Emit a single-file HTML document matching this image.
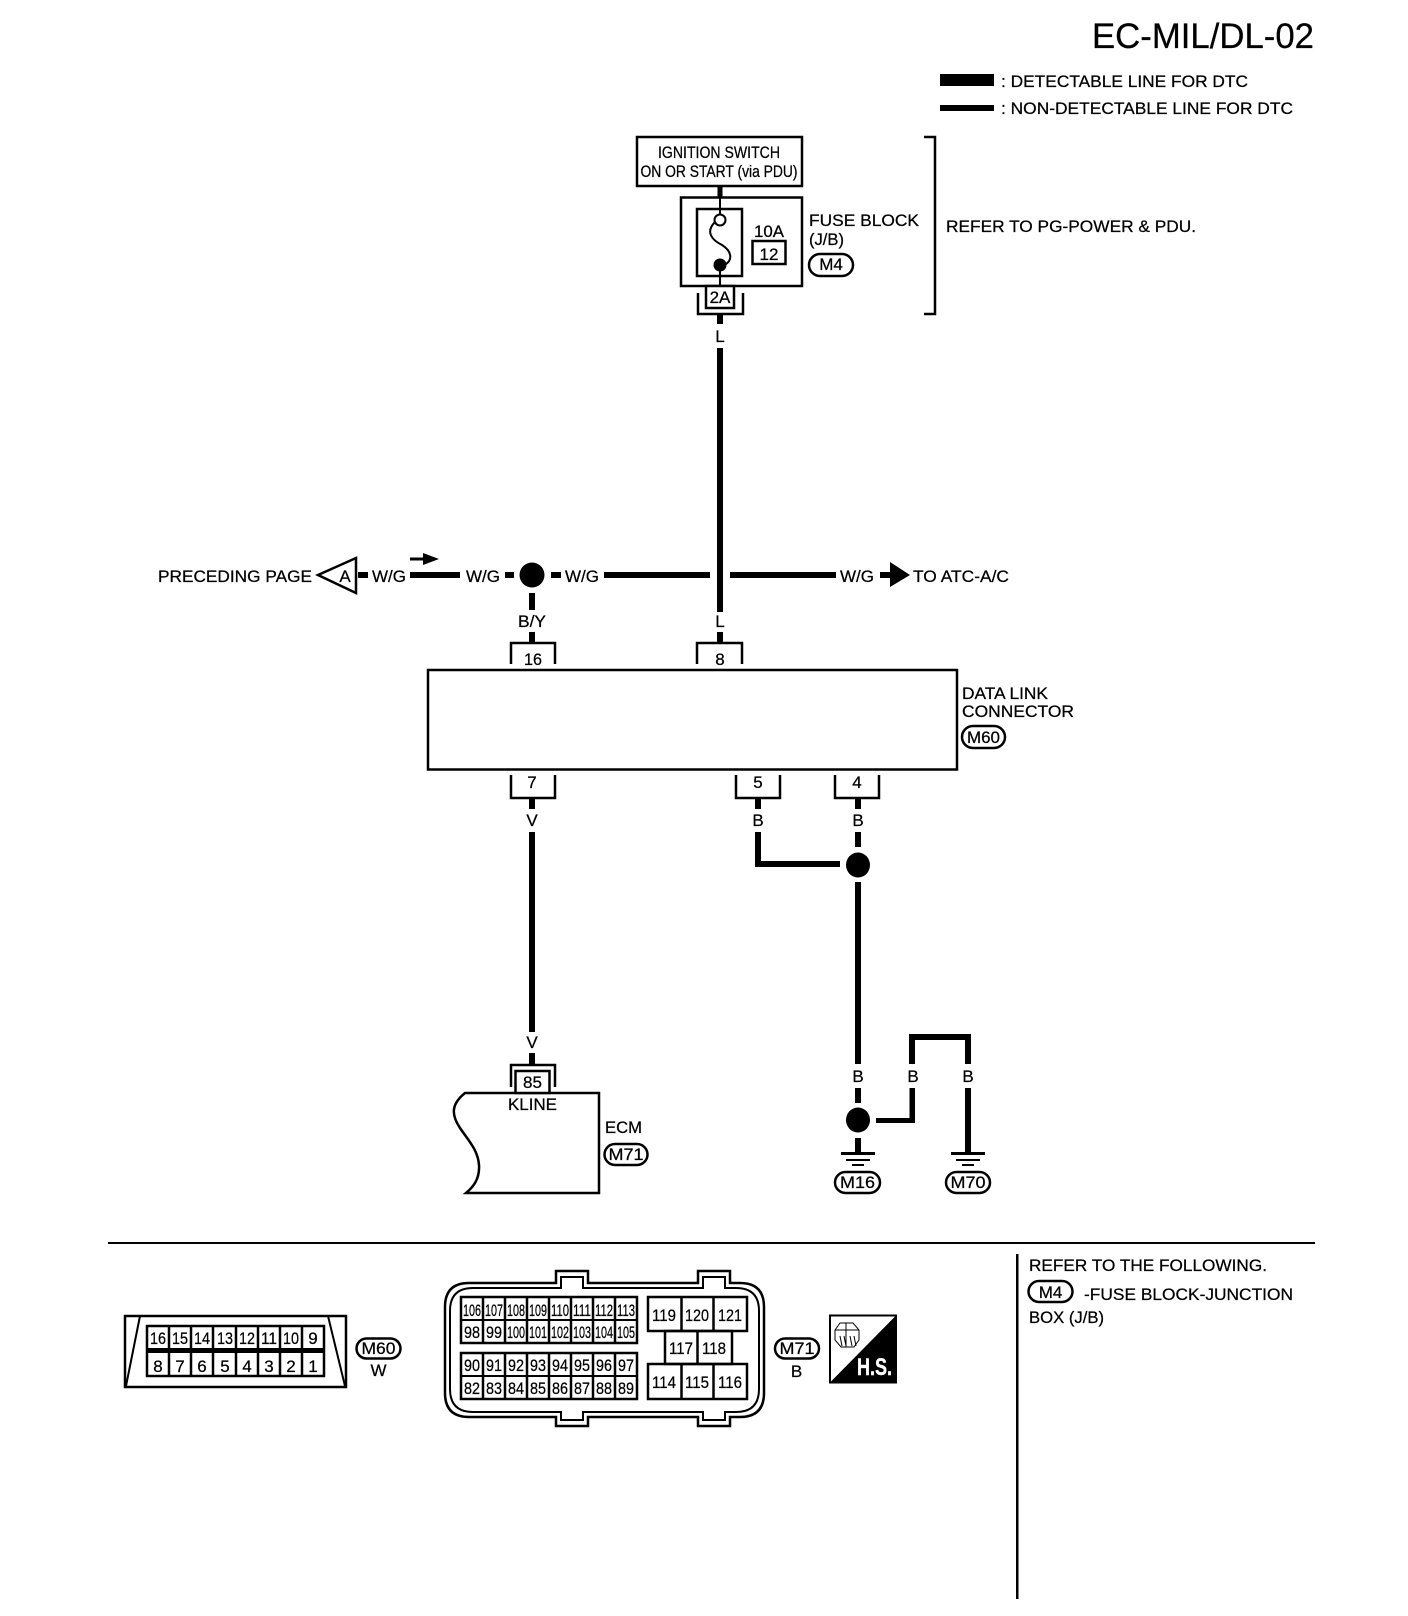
<!DOCTYPE html>
<html>
<head>
<meta charset="utf-8">
<title>EC-MIL/DL-02</title>
<style>
html,body{margin:0;padding:0;background:#fff;}
svg{display:block;}
text{font-family:"Liberation Sans",sans-serif;font-size:17px;fill:#000;stroke:#000;stroke-width:.25;}
.m{text-anchor:middle;}
.n{text-anchor:middle;font-size:17px;}
.o{fill:#fff;stroke:#000;stroke-width:2.5;}
.l{fill:none;stroke:#000;stroke-width:2.5;}
.w{fill:none;stroke:#000;stroke-width:6;}
.t{fill:none;stroke:#000;stroke-width:2;}
</style>
</head>
<body>
<svg width="1408" height="1616" viewBox="0 0 1408 1616" xmlns="http://www.w3.org/2000/svg">
<rect width="1408" height="1616" fill="#fff"/>

<!-- Title / legend -->
<text x="1092" y="48" style="font-size:35px" textLength="222" lengthAdjust="spacingAndGlyphs">EC-MIL/DL-02</text>
<rect x="940" y="74" width="54" height="12"/>
<rect x="940" y="105" width="54" height="6"/>
<text x="1001" y="87" textLength="247" lengthAdjust="spacingAndGlyphs">: DETECTABLE LINE FOR DTC</text>
<text x="1001" y="114" textLength="292" lengthAdjust="spacingAndGlyphs">: NON-DETECTABLE LINE FOR DTC</text>

<!-- Ignition / fuse block -->
<g transform="translate(-1,0)">
<rect x="638" y="137" width="165" height="49" class="l"/>
<text class="m" x="720" y="158" textLength="122" lengthAdjust="spacingAndGlyphs">IGNITION SWITCH</text>
<text class="m" x="720" y="177" textLength="157" lengthAdjust="spacingAndGlyphs">ON OR START (via PDU)</text>
<rect x="718.5" y="186" width="5" height="11"/>
<rect x="682" y="197.5" width="121" height="88.5" class="l"/>
<rect x="698" y="209" width="45" height="67" class="l"/>
<path d="M721 198V215M721 270V286" class="t"/>
<circle cx="721" cy="220" r="5.5" fill="#fff" stroke="#000" stroke-width="2"/>
<path d="M716 222C706 232 713 240 723 245C734 252 734 262 723 266" class="t"/>
<circle cx="721" cy="265" r="6.5"/>
<text class="m" x="770" y="237" textLength="30" lengthAdjust="spacingAndGlyphs">10A</text>
<rect x="753.5" y="241" width="33" height="23" class="l"/>
<text class="m" x="770" y="260">12</text>
<text x="810" y="226" textLength="110" lengthAdjust="spacingAndGlyphs">FUSE BLOCK</text>
<text x="810" y="245" textLength="35" lengthAdjust="spacingAndGlyphs">(J/B)</text>
<rect x="810" y="254" width="44" height="22" rx="11" class="o"/>
<text class="m" x="832" y="270">M4</text>
<path d="M699 293V314H744V293" class="l"/>
<rect x="707" y="286" width="28" height="22" class="o"/>
<text class="m" x="721" y="303">2A</text>
</g>
<path d="M924 137H935V314H924" class="l"/>
<text x="946" y="232" textLength="250" lengthAdjust="spacingAndGlyphs">REFER TO PG-POWER &amp; PDU.</text>
<rect x="717" y="315" width="6" height="9"/>
<text class="m" x="720" y="342">L</text>
<rect x="717" y="348" width="6" height="264"/>

<!-- Horizontal W/G line -->
<text x="158" y="582" textLength="154" lengthAdjust="spacingAndGlyphs">PRECEDING PAGE</text>
<path d="M318 575L356 558V593Z" fill="#fff" stroke="#000" stroke-width="2.5"/>
<text class="m" x="345" y="582">A</text>
<rect x="358" y="572" width="10" height="6"/>
<text x="372" y="582" textLength="34" lengthAdjust="spacingAndGlyphs">W/G</text>
<rect x="410" y="572" width="50" height="6"/>
<path d="M410 557.5H423V553L439 559L423 565V560.5H410Z"/>
<text x="466" y="582" textLength="34" lengthAdjust="spacingAndGlyphs">W/G</text>
<rect x="505" y="572" width="9" height="6"/>
<ellipse cx="532" cy="575" rx="12.5" ry="12.5"/>
<rect x="551" y="572" width="10" height="6"/>
<text x="565" y="582" textLength="34" lengthAdjust="spacingAndGlyphs">W/G</text>
<rect x="604" y="572" width="106" height="6"/>
<rect x="730" y="572" width="106" height="6"/>
<text x="840" y="582" textLength="34" lengthAdjust="spacingAndGlyphs">W/G</text>
<rect x="880" y="572" width="11" height="6"/>
<path d="M890 562L910 575L890 587Z"/>
<text x="913" y="582" textLength="96" lengthAdjust="spacingAndGlyphs">TO ATC-A/C</text>

<!-- Data link connector -->
<rect x="529" y="593" width="6" height="17"/>
<text class="m" x="532" y="627" textLength="28" lengthAdjust="spacingAndGlyphs">B/Y</text>
<text class="m" x="720" y="627">L</text>
<rect x="529" y="632" width="6" height="10"/>
<rect x="717" y="632" width="6" height="10"/>
<path d="M511 664V643H555V664" class="l"/>
<path d="M697 664V643H742V664" class="l"/>
<text class="m" x="533" y="665" textLength="18" lengthAdjust="spacingAndGlyphs">16</text>
<text class="m" x="720" y="665">8</text>
<rect x="428" y="670" width="529" height="99.5" class="l"/>
<text x="962" y="699" textLength="86" lengthAdjust="spacingAndGlyphs">DATA LINK</text>
<text x="962" y="717" textLength="112" lengthAdjust="spacingAndGlyphs">CONNECTOR</text>
<rect x="962" y="726" width="43" height="22" rx="11" class="o"/>
<text class="m" x="983.5" y="743" textLength="33" lengthAdjust="spacingAndGlyphs">M60</text>
<path d="M511 775V798H555V775" class="l"/>
<path d="M736 775V798H780V775" class="l"/>
<path d="M835 775V798H879V775" class="l"/>
<text class="m" x="532" y="788">7</text>
<text class="m" x="758" y="788">5</text>
<text class="m" x="857" y="788">4</text>

<rect x="529" y="798" width="6" height="11"/>
<rect x="755" y="798" width="6" height="11"/>
<rect x="855" y="798" width="6" height="11"/>
<text class="m" x="532" y="826">V</text>
<text class="m" x="758" y="826">B</text>
<text class="m" x="858" y="826">B</text>
<rect x="529" y="832" width="6" height="200"/>
<path d="M758 832V864H840" class="w"/>
<rect x="855" y="832" width="6" height="15"/>
<ellipse cx="858" cy="865" rx="12" ry="12.5"/>
<rect x="855" y="882" width="6" height="182"/>

<!-- ECM -->
<text class="m" x="532" y="1048">V</text>
<rect x="529" y="1053" width="6" height="11"/>
<path d="M511 1087V1065H555V1087" class="l"/>
<path d="M465 1093H599V1193H466C472 1188 480 1180 479 1165C478 1150 468 1140 460 1128C452 1116 450 1105 465 1093Z" class="o"/>
<rect x="515.5" y="1071" width="34" height="22" class="o"/>
<text class="m" x="532.5" y="1088">85</text>
<text class="m" x="532.5" y="1110" textLength="49" lengthAdjust="spacingAndGlyphs">KLINE</text>
<text x="605" y="1133" textLength="37" lengthAdjust="spacingAndGlyphs">ECM</text>
<rect x="604.5" y="1144" width="43" height="21" rx="10.5" class="o"/>
<text class="m" x="626" y="1160" textLength="35" lengthAdjust="spacingAndGlyphs">M71</text>

<!-- Grounds -->
<text class="m" x="858" y="1082">B</text>
<text class="m" x="913" y="1082">B</text>
<text class="m" x="968" y="1082">B</text>
<rect x="855" y="1088" width="6" height="15"/>
<ellipse cx="858" cy="1120" rx="12" ry="12.5"/>
<rect x="855" y="1138" width="6" height="15"/>
<rect x="876" y="1118" width="39" height="5"/>
<rect x="909.5" y="1088" width="5.5" height="35"/>
<path d="M912 1064V1037H968V1064" class="w"/>
<rect x="965" y="1088" width="6" height="65"/>
<rect x="841" y="1152" width="34" height="3"/>
<rect x="846" y="1159" width="24" height="2"/>
<rect x="852" y="1164" width="12" height="2"/>
<rect x="951" y="1152" width="34" height="3"/>
<rect x="956" y="1159" width="24" height="2"/>
<rect x="962" y="1164" width="12" height="2"/>
<rect x="835" y="1172" width="45" height="21" rx="10.5" class="o"/>
<text class="m" x="857.5" y="1188" textLength="35" lengthAdjust="spacingAndGlyphs">M16</text>
<rect x="946" y="1172" width="44" height="21" rx="10.5" class="o"/>
<text class="m" x="968" y="1188" textLength="35" lengthAdjust="spacingAndGlyphs">M70</text>

<!-- Dividers -->
<rect x="108" y="1242" width="1207" height="2"/>
<rect x="1016" y="1254" width="2.5" height="345"/>

<!-- M60 connector -->
<rect x="125" y="1316" width="221" height="71" class="l"/>
<path d="M140 1316L126 1386M328 1316L345 1386" class="t"/>
<rect x="147" y="1326" width="177" height="50" class="l"/>
<rect x="147" y="1348" width="177" height="5" />
<path d="M169 1326V1376M191 1326V1376M213 1326V1376M236 1326V1376M258 1326V1376M280 1326V1376M302 1326V1376" class="l"/>
<text class="n" x="158" y="1344" textLength="16" lengthAdjust="spacingAndGlyphs">16</text>
<text class="n" x="180" y="1344" textLength="16" lengthAdjust="spacingAndGlyphs">15</text>
<text class="n" x="202" y="1344" textLength="16" lengthAdjust="spacingAndGlyphs">14</text>
<text class="n" x="225" y="1344" textLength="16" lengthAdjust="spacingAndGlyphs">13</text>
<text class="n" x="247" y="1344" textLength="16" lengthAdjust="spacingAndGlyphs">12</text>
<text class="n" x="269" y="1344" textLength="16" lengthAdjust="spacingAndGlyphs">11</text>
<text class="n" x="291" y="1344" textLength="16" lengthAdjust="spacingAndGlyphs">10</text>
<text class="n" x="313" y="1344">9</text>
<text class="n" x="158" y="1372">8</text>
<text class="n" x="180" y="1372">7</text>
<text class="n" x="202" y="1372">6</text>
<text class="n" x="225" y="1372">5</text>
<text class="n" x="247" y="1372">4</text>
<text class="n" x="269" y="1372">3</text>
<text class="n" x="291" y="1372">2</text>
<text class="n" x="313" y="1372">1</text>
<rect x="356.5" y="1338.5" width="44" height="20" rx="10" class="o"/>
<text class="m" x="378.5" y="1354" textLength="34" lengthAdjust="spacingAndGlyphs">M60</text>
<text class="m" x="378.5" y="1376">W</text>

<!-- ECM connector -->
<g transform="translate(-1,0)">
<path d="M470 1283H557V1271H589V1283H699V1271H731V1283H741Q765 1283 765 1307V1393Q765 1417 741 1417H731V1426H699V1417H589V1426H557V1417H470Q446 1417 446 1393V1307Q446 1283 470 1283Z" class="o"/>
<path d="M474 1288H562V1277H584V1288H704V1277H726V1288H737Q760 1288 760 1311V1389Q760 1412 737 1412H726V1420H704V1412H584V1420H562V1412H474Q451 1412 451 1389V1311Q451 1288 474 1288Z" class="l" style="stroke-width:2"/>

<rect x="462" y="1297" width="176" height="46" class="l"/>
<rect x="462" y="1353" width="176" height="46" class="l"/>
<path d="M462 1320H638M462 1376H638" class="t"/>
<path d="M484 1297V1343M506 1297V1343M528 1297V1343M550 1297V1343M572 1297V1343M594 1297V1343M616 1297V1343M484 1353V1399M506 1353V1399M528 1353V1399M550 1353V1399M572 1353V1399M594 1353V1399M616 1353V1399" class="l"/>
<text class="n" x="473" y="1316" textLength="18" lengthAdjust="spacingAndGlyphs">106</text>
<text class="n" x="495" y="1316" textLength="18" lengthAdjust="spacingAndGlyphs">107</text>
<text class="n" x="517" y="1316" textLength="18" lengthAdjust="spacingAndGlyphs">108</text>
<text class="n" x="539" y="1316" textLength="18" lengthAdjust="spacingAndGlyphs">109</text>
<text class="n" x="561" y="1316" textLength="18" lengthAdjust="spacingAndGlyphs">110</text>
<text class="n" x="583" y="1316" textLength="18" lengthAdjust="spacingAndGlyphs">111</text>
<text class="n" x="605" y="1316" textLength="18" lengthAdjust="spacingAndGlyphs">112</text>
<text class="n" x="627" y="1316" textLength="18" lengthAdjust="spacingAndGlyphs">113</text>
<text class="n" x="473" y="1338" textLength="16" lengthAdjust="spacingAndGlyphs">98</text>
<text class="n" x="495" y="1338" textLength="16" lengthAdjust="spacingAndGlyphs">99</text>
<text class="n" x="517" y="1338" textLength="18" lengthAdjust="spacingAndGlyphs">100</text>
<text class="n" x="539" y="1338" textLength="18" lengthAdjust="spacingAndGlyphs">101</text>
<text class="n" x="561" y="1338" textLength="18" lengthAdjust="spacingAndGlyphs">102</text>
<text class="n" x="583" y="1338" textLength="18" lengthAdjust="spacingAndGlyphs">103</text>
<text class="n" x="605" y="1338" textLength="18" lengthAdjust="spacingAndGlyphs">104</text>
<text class="n" x="627" y="1338" textLength="18" lengthAdjust="spacingAndGlyphs">105</text>
<text class="n" x="473" y="1371" textLength="16" lengthAdjust="spacingAndGlyphs">90</text>
<text class="n" x="495" y="1371" textLength="16" lengthAdjust="spacingAndGlyphs">91</text>
<text class="n" x="517" y="1371" textLength="16" lengthAdjust="spacingAndGlyphs">92</text>
<text class="n" x="539" y="1371" textLength="16" lengthAdjust="spacingAndGlyphs">93</text>
<text class="n" x="561" y="1371" textLength="16" lengthAdjust="spacingAndGlyphs">94</text>
<text class="n" x="583" y="1371" textLength="16" lengthAdjust="spacingAndGlyphs">95</text>
<text class="n" x="605" y="1371" textLength="16" lengthAdjust="spacingAndGlyphs">96</text>
<text class="n" x="627" y="1371" textLength="16" lengthAdjust="spacingAndGlyphs">97</text>
<text class="n" x="473" y="1394" textLength="16" lengthAdjust="spacingAndGlyphs">82</text>
<text class="n" x="495" y="1394" textLength="16" lengthAdjust="spacingAndGlyphs">83</text>
<text class="n" x="517" y="1394" textLength="16" lengthAdjust="spacingAndGlyphs">84</text>
<text class="n" x="539" y="1394" textLength="16" lengthAdjust="spacingAndGlyphs">85</text>
<text class="n" x="561" y="1394" textLength="16" lengthAdjust="spacingAndGlyphs">86</text>
<text class="n" x="583" y="1394" textLength="16" lengthAdjust="spacingAndGlyphs">87</text>
<text class="n" x="605" y="1394" textLength="16" lengthAdjust="spacingAndGlyphs">88</text>
<text class="n" x="627" y="1394" textLength="16" lengthAdjust="spacingAndGlyphs">89</text>

<rect x="649" y="1297" width="99" height="34" class="l"/>
<path d="M682.5 1297V1331M714.5 1297V1331" class="l"/>
<rect x="666" y="1331" width="67" height="33" class="l"/>
<path d="M698.5 1331V1364" class="l"/>
<rect x="649" y="1364" width="99" height="35" class="l"/>
<path d="M682.5 1364V1399M714.5 1364V1399" class="l"/>
<text class="n" x="665" y="1321" textLength="24" lengthAdjust="spacingAndGlyphs">119</text>
<text class="n" x="698" y="1321" textLength="24" lengthAdjust="spacingAndGlyphs">120</text>
<text class="n" x="731" y="1321" textLength="24" lengthAdjust="spacingAndGlyphs">121</text>
<text class="n" x="682" y="1354" textLength="24" lengthAdjust="spacingAndGlyphs">117</text>
<text class="n" x="715" y="1354" textLength="24" lengthAdjust="spacingAndGlyphs">118</text>
<text class="n" x="665" y="1388" textLength="24" lengthAdjust="spacingAndGlyphs">114</text>
<text class="n" x="698" y="1388" textLength="24" lengthAdjust="spacingAndGlyphs">115</text>
<text class="n" x="731" y="1388" textLength="24" lengthAdjust="spacingAndGlyphs">116</text>
</g>

<rect x="775" y="1338.5" width="44" height="20" rx="10" class="o"/>
<text class="m" x="797" y="1354" textLength="35" lengthAdjust="spacingAndGlyphs">M71</text>
<text class="m" x="796.5" y="1377">B</text>

<!-- H.S. badge -->
<rect x="830" y="1315.5" width="66" height="67" fill="#fff" stroke="#000" stroke-width="2"/>
<path d="M896 1315.5V1382.5H830Z"/>
<path d="M835 1330L840 1323H853L859 1330V1340L854 1347H841L835 1340ZM835 1330H859M846 1323V1347M840 1336L842 1346M844 1336L846 1346M850 1336L852 1346M854 1336L856 1346" fill="none" stroke="#000" stroke-width="1"/>
<text x="857" y="1375" style="font-size:24px;font-weight:bold;fill:#fff;stroke:#fff;stroke-width:.4" textLength="35" lengthAdjust="spacingAndGlyphs">H.S.</text>

<!-- Notes -->
<text x="1029" y="1271" textLength="238" lengthAdjust="spacingAndGlyphs">REFER TO THE FOLLOWING.</text>
<rect x="1028.5" y="1281" width="44" height="21" rx="10.5" class="o"/>
<text class="m" x="1050.5" y="1298">M4</text>
<text x="1084" y="1300" textLength="209" lengthAdjust="spacingAndGlyphs">-FUSE BLOCK-JUNCTION</text>
<text x="1029" y="1323" textLength="75" lengthAdjust="spacingAndGlyphs">BOX (J/B)</text>
</svg>
</body>
</html>
